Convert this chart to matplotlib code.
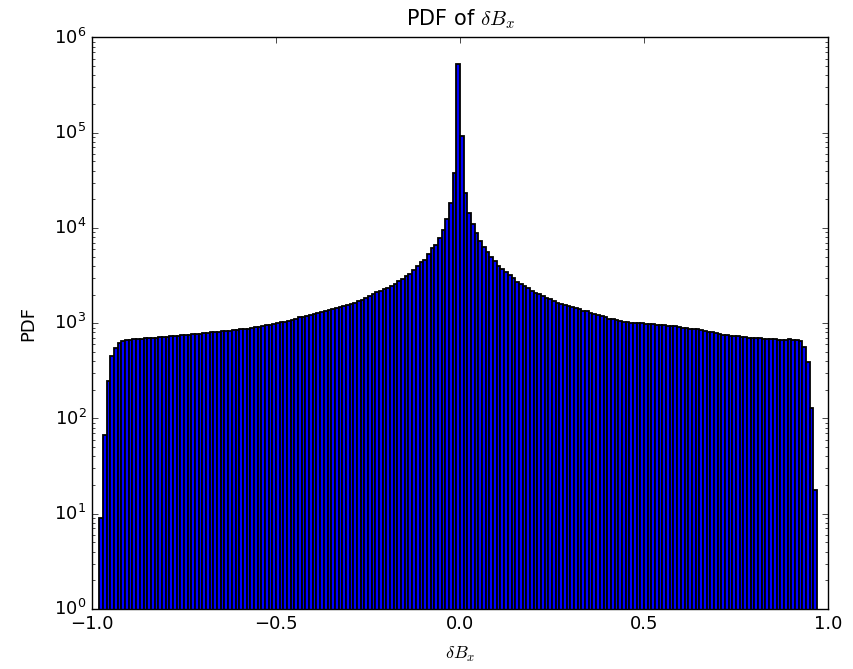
import numpy as np
import matplotlib
matplotlib.use("Agg")
from matplotlib import pyplot as plt

# bin layout: 200 bins of width 0.01 on [-1, 1]; non-empty bins are 2..196
n_bins = 200
first_bin = 2

# bar heights, one per non-empty bin (left to right)
left_edge = [9, 67, 248, 455, 556, 617, 645]
left_plateau = [664, 670, 675, 680, 685, 695, 700, 703, 705, 710,
                718, 725, 730, 735, 740, 745, 750, 760, 770, 775,
                780, 790, 798, 800, 805, 815, 825, 832, 835, 840,
                850, 860, 870, 880, 890, 905, 915, 930, 950, 965,
                980, 1000, 1020, 1040, 1065, 1090, 1115]
left_rise = [1150, 1170, 1195, 1225, 1250, 1275, 1300, 1340, 1380, 1420,
             1455, 1490, 1525, 1560, 1600, 1650, 1700, 1760, 1850, 1950,
             2030, 2110, 2190, 2270, 2350, 2440, 2590, 2760, 2930, 3110,
             3320, 3600, 4000, 4350, 4650, 5300, 6100, 6700, 7830, 9500,
             12500, 18200, 37700]
peak = [531000, 91500]
right_fall = [23300, 14500, 10900, 8800, 7340, 6300, 5530, 4900, 4450, 4010,
              3700, 3470, 3220, 2980, 2740, 2590, 2430, 2340, 2190, 2100,
              2040, 1940, 1860, 1790, 1730, 1650, 1600, 1560, 1525, 1475,
              1440, 1405, 1360, 1330, 1295, 1255, 1225, 1195, 1160, 1120,
              1105, 1070, 1045, 1030]
right_plateau = [1020, 1010, 1005, 1000, 995, 990, 985, 975, 965, 955,
                 948, 940, 935, 925, 915, 900, 890, 880, 870, 860,
                 850, 830, 815, 805, 795, 770, 760, 752, 740, 735,
                 730, 725, 712, 708, 705, 702, 700, 690, 682, 680,
                 678, 668, 672, 665, 675, 668, 665]
right_edge = [643, 561, 391, 130, 17.8]

counts = left_edge + left_plateau + left_rise + peak + right_fall + right_plateau + right_edge

edges = np.linspace(-1.0, 1.0, n_bins + 1)
width = edges[1] - edges[0]
lefts = edges[first_bin:first_bin + len(counts)]

plt.style.use('classic')
plt.rcParams['xtick.labelsize'] = 13
plt.rcParams['ytick.labelsize'] = 13

fig = plt.figure(figsize=(8.54, 6.69), dpi=100)
fig.subplots_adjust(left=0.1077, right=0.9696, bottom=0.0897, top=0.944)
ax = fig.add_subplot(111)
ax.bar(lefts, counts, width=width, align='edge', color='b', edgecolor='k', linewidth=1.3, log=True)
ax.set_yscale('log')
ax.set_xlim(-1, 1)
ax.set_ylim(1, 1e6)
ax.set_title(r'PDF of $\delta B_x$', fontsize=15, pad=9)
ax.set_xlabel(r'$\delta B_x$', fontsize=13, labelpad=9)
ax.set_ylabel('PDF', fontsize=13, labelpad=12)

plt.savefig('out.png', dpi=100)
